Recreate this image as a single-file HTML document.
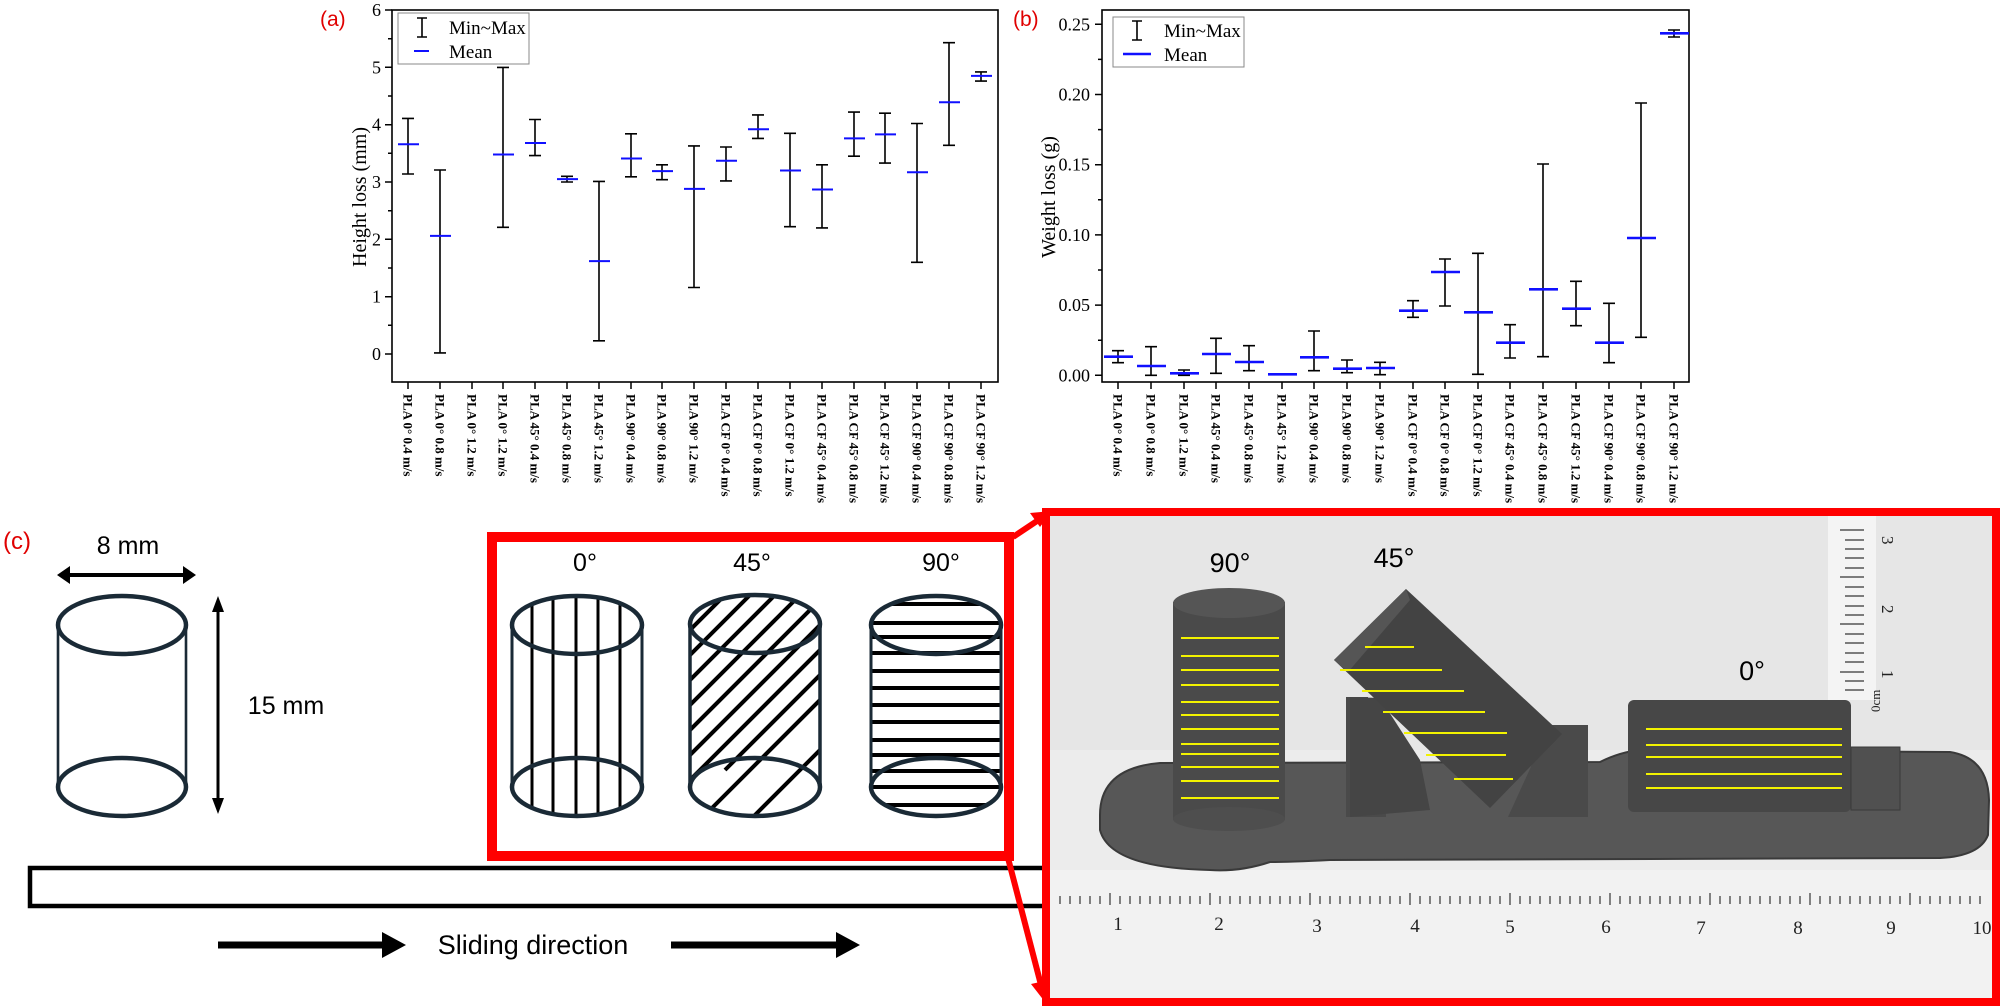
<!DOCTYPE html>
<html><head><meta charset="utf-8"><style>
html,body{margin:0;padding:0;background:#fff;}
svg{display:block;}
.ser{font-family:"Liberation Serif",serif;}
.san{font-family:"Liberation Sans",sans-serif;}
</style></head><body>
<svg width="2000" height="1006" viewBox="0 0 2000 1006" xmlns="http://www.w3.org/2000/svg">
<defs>
<clipPath id="c0"><rect x="512" y="625" width="130" height="162"/><ellipse cx="577" cy="625" rx="65" ry="29"/><ellipse cx="577" cy="787" rx="65" ry="29"/></clipPath>
<clipPath id="c45"><rect x="690" y="624" width="130" height="163"/><ellipse cx="755" cy="624" rx="65" ry="29"/><ellipse cx="755" cy="787" rx="65" ry="29"/></clipPath>
<clipPath id="c90"><rect x="871" y="625" width="130" height="162"/><ellipse cx="936" cy="625" rx="65" ry="29"/><ellipse cx="936" cy="787" rx="65" ry="29"/></clipPath>
<clipPath id="photo"><rect x="1050" y="516" width="942" height="482"/></clipPath>
</defs>

<!-- ===== Chart (a) ===== -->
<g class="ser">
<text x="320" y="26" class="san" font-size="21" fill="#e00000">(a)</text>
<rect x="392" y="10" width="606" height="372" fill="none" stroke="#000" stroke-width="1.6"/>
<g stroke="#000" stroke-width="1.5">
<path d="M392 354h-7M392 296.7h-7M392 239.3h-7M392 182h-7M392 124.7h-7M392 67.3h-7M392 10h-7"/>
<path d="M392 325.3h-4M392 268h-4M392 210.7h-4M392 153.3h-4M392 96h-4M392 38.7h-4"/>
<path d="M408 382v7M440 382v7M472 382v7M503 382v7M535 382v7M567 382v7M599 382v7M631 382v7M662 382v7M694 382v7M726 382v7M758 382v7M790 382v7M822 382v7M854 382v7M885 382v7M917 382v7M949 382v7M981 382v7"/>
</g>
<g font-size="18" text-anchor="end">
<text x="381" y="360">0</text><text x="381" y="302.7">1</text><text x="381" y="245.3">2</text><text x="381" y="188">3</text><text x="381" y="130.7">4</text><text x="381" y="73.3">5</text><text x="381" y="16">6</text>
</g>
<text transform="translate(366,197) rotate(-90)" font-size="20" text-anchor="middle">Height loss (mm)</text>
<g stroke="#000" stroke-width="1.6" fill="none">
<path d="M408 118.4V174M402 118.4h12M402 174h12"/>
<path d="M440 170V352.9M434 170h12M434 352.9h12"/>
<path d="M503 67.4V227.3M497 67.4h12M497 227.3h12"/>
<path d="M535 119.5V155.6M529 119.5h12M529 155.6h12"/>
<path d="M567 176.3V182M561 176.3h12M561 182h12"/>
<path d="M599 181.4V340.8M593 181.4h12M593 340.8h12"/>
<path d="M631 133.8V176.8M625 133.8h12M625 176.8h12"/>
<path d="M662 164.8V179.7M656 164.8h12M656 179.7h12"/>
<path d="M694 145.9V287.5M688 145.9h12M688 287.5h12"/>
<path d="M726 147V180.9M720 147h12M720 180.9h12"/>
<path d="M758 114.9V138.4M752 114.9h12M752 138.4h12"/>
<path d="M790 133.3V226.7M784 133.3h12M784 226.7h12"/>
<path d="M822 164.8V227.9M816 164.8h12M816 227.9h12"/>
<path d="M854 112.1V156.2M848 112.1h12M848 156.2h12"/>
<path d="M885 113.2V163.1M879 113.2h12M879 163.1h12"/>
<path d="M917 123.5V262.3M911 123.5h12M911 262.3h12"/>
<path d="M949 42.7V145.3M943 42.7h12M943 145.3h12"/>
<path d="M981 71.9V81.1M975 71.9h12M975 81.1h12"/>
</g>
<g stroke="#1010ff" stroke-width="2">
<path d="M398 144.2h21M430 235.9h21M493 154.5h21M525 143h21M557 179.1h21M589 261.1h21M621 158.5h21M652 171.1h21M684 188.9h21M716 160.8h21M748 129.3h21M780 170.5h21M812 189.5h21M844 138.4h21M875 134.4h21M907 172.3h21M939 102.3h21M971 75.9h21"/>
</g>
<rect x="398" y="13" width="131" height="51" fill="#fff" stroke="#888" stroke-width="1"/>
<path d="M422 18v19M417 18h10M417 37h10" stroke="#000" stroke-width="1.6"/>
<path d="M414 51h15" stroke="#1010ff" stroke-width="2"/>
<text x="449" y="34" font-size="19">Min~Max</text>
<text x="449" y="58" font-size="19">Mean</text>
<g font-size="13" font-weight="bold">
<text transform="translate(403.5,394) rotate(90)">PLA 0° 0.4 m/s</text>
<text transform="translate(435.5,394) rotate(90)">PLA 0° 0.8 m/s</text>
<text transform="translate(467.5,394) rotate(90)">PLA 0° 1.2 m/s</text>
<text transform="translate(498.5,394) rotate(90)">PLA 0° 1.2 m/s</text>
<text transform="translate(530.5,394) rotate(90)">PLA 45° 0.4 m/s</text>
<text transform="translate(562.5,394) rotate(90)">PLA 45° 0.8 m/s</text>
<text transform="translate(594.5,394) rotate(90)">PLA 45° 1.2 m/s</text>
<text transform="translate(626.5,394) rotate(90)">PLA 90° 0.4 m/s</text>
<text transform="translate(657.5,394) rotate(90)">PLA 90° 0.8 m/s</text>
<text transform="translate(689.5,394) rotate(90)">PLA 90° 1.2 m/s</text>
<text transform="translate(721.5,394) rotate(90)">PLA CF 0° 0.4 m/s</text>
<text transform="translate(753.5,394) rotate(90)">PLA CF 0° 0.8 m/s</text>
<text transform="translate(785.5,394) rotate(90)">PLA CF 0° 1.2 m/s</text>
<text transform="translate(817.5,394) rotate(90)">PLA CF 45° 0.4 m/s</text>
<text transform="translate(849.5,394) rotate(90)">PLA CF 45° 0.8 m/s</text>
<text transform="translate(880.5,394) rotate(90)">PLA CF 45° 1.2 m/s</text>
<text transform="translate(912.5,394) rotate(90)">PLA CF 90° 0.4 m/s</text>
<text transform="translate(944.5,394) rotate(90)">PLA CF 90° 0.8 m/s</text>
<text transform="translate(976.5,394) rotate(90)">PLA CF 90° 1.2 m/s</text>
</g>
</g>

<!-- ===== Chart (b) ===== -->
<g class="ser">
<text x="1013" y="26" class="san" font-size="21" fill="#e00000">(b)</text>
<rect x="1102" y="10" width="587" height="372" fill="none" stroke="#000" stroke-width="1.6"/>
<g stroke="#000" stroke-width="1.5">
<path d="M1102 375.3h-7M1102 305.1h-7M1102 234.9h-7M1102 164.7h-7M1102 94.5h-7M1102 24.3h-7"/>
<path d="M1102 340.2h-4M1102 270h-4M1102 199.8h-4M1102 129.6h-4M1102 59.4h-4"/>
<path d="M1118 382v7M1151 382v7M1184 382v7M1216 382v7M1249 382v7M1282 382v7M1314 382v7M1347 382v7M1380 382v7M1413 382v7M1445 382v7M1478 382v7M1510 382v7M1543 382v7M1576 382v7M1609 382v7M1641 382v7M1674 382v7"/>
</g>
<g font-size="18" text-anchor="end">
<text x="1090" y="381.3">0.00</text><text x="1090" y="311.1">0.05</text><text x="1090" y="240.9">0.10</text><text x="1090" y="170.7">0.15</text><text x="1090" y="100.5">0.20</text><text x="1090" y="30.3">0.25</text>
</g>
<text transform="translate(1055,197) rotate(-90)" font-size="20" text-anchor="middle">Weight loss (g)</text>
<g stroke="#000" stroke-width="1.6" fill="none">
<path d="M1118 350.7V362.7M1112 350.7h12M1112 362.7h12"/>
<path d="M1151 346.7V375.3M1145 346.7h12M1145 375.3h12"/>
<path d="M1184 370V375.3M1178 370h12M1178 375.3h12"/>
<path d="M1216 338.3V373.3M1210 338.3h12M1210 373.3h12"/>
<path d="M1249 345.7V370.7M1243 345.7h12M1243 370.7h12"/>
<path d="M1314 331V370.7M1308 331h12M1308 370.7h12"/>
<path d="M1347 360V372.7M1341 360h12M1341 372.7h12"/>
<path d="M1380 362.3V374.7M1374 362.3h12M1374 374.7h12"/>
<path d="M1413 300.7V317.3M1407 300.7h12M1407 317.3h12"/>
<path d="M1445 259V306M1439 259h12M1439 306h12"/>
<path d="M1478 253.3V374.3M1472 253.3h12M1472 374.3h12"/>
<path d="M1510 324.7V358M1504 324.7h12M1504 358h12"/>
<path d="M1543 164V356.7M1537 164h12M1537 356.7h12"/>
<path d="M1576 281.3V325.7M1570 281.3h12M1570 325.7h12"/>
<path d="M1609 303.3V362.7M1603 303.3h12M1603 362.7h12"/>
<path d="M1641 103V337.3M1635 103h12M1635 337.3h12"/>
<path d="M1674 30V37M1668 30h12M1668 37h12"/>
</g>
<g stroke="#1010ff" stroke-width="2.6">
<path d="M1104 356.7h29M1137 366h29M1170 373.3h29M1202 354h29M1235 362h29M1268 374.3h29M1300 357.3h29M1333 368.7h29M1366 368h29M1399 310.7h29M1431 272h29M1464 312.3h29M1496 342.7h29M1529 289.3h29M1562 308.7h29M1595 342.7h29M1627 238h29M1660 33.3h29"/>
</g>
<rect x="1113" y="17" width="131" height="50" fill="#fff" stroke="#888" stroke-width="1"/>
<path d="M1137 21v19M1132 21h10M1132 40h10" stroke="#000" stroke-width="1.6"/>
<path d="M1123 54h28" stroke="#1010ff" stroke-width="2.4"/>
<text x="1164" y="37" font-size="19">Min~Max</text>
<text x="1164" y="61" font-size="19">Mean</text>
<g font-size="13" font-weight="bold">
<text transform="translate(1113.5,394) rotate(90)">PLA 0° 0.4 m/s</text>
<text transform="translate(1146.5,394) rotate(90)">PLA 0° 0.8 m/s</text>
<text transform="translate(1179.5,394) rotate(90)">PLA 0° 1.2 m/s</text>
<text transform="translate(1211.5,394) rotate(90)">PLA 45° 0.4 m/s</text>
<text transform="translate(1244.5,394) rotate(90)">PLA 45° 0.8 m/s</text>
<text transform="translate(1277.5,394) rotate(90)">PLA 45° 1.2 m/s</text>
<text transform="translate(1309.5,394) rotate(90)">PLA 90° 0.4 m/s</text>
<text transform="translate(1342.5,394) rotate(90)">PLA 90° 0.8 m/s</text>
<text transform="translate(1375.5,394) rotate(90)">PLA 90° 1.2 m/s</text>
<text transform="translate(1408.5,394) rotate(90)">PLA CF 0° 0.4 m/s</text>
<text transform="translate(1440.5,394) rotate(90)">PLA CF 0° 0.8 m/s</text>
<text transform="translate(1473.5,394) rotate(90)">PLA CF 0° 1.2 m/s</text>
<text transform="translate(1505.5,394) rotate(90)">PLA CF 45° 0.4 m/s</text>
<text transform="translate(1538.5,394) rotate(90)">PLA CF 45° 0.8 m/s</text>
<text transform="translate(1571.5,394) rotate(90)">PLA CF 45° 1.2 m/s</text>
<text transform="translate(1604.5,394) rotate(90)">PLA CF 90° 0.4 m/s</text>
<text transform="translate(1636.5,394) rotate(90)">PLA CF 90° 0.8 m/s</text>
<text transform="translate(1669.5,394) rotate(90)">PLA CF 90° 1.2 m/s</text>
</g>
</g>

<!-- ===== Panel (c) left ===== -->
<g class="san">
<text x="3" y="549" font-size="24" fill="#e00000">(c)</text>
<text x="128" y="554" font-size="25" text-anchor="middle">8 mm</text>
<path d="M66 575h121" stroke="#000" stroke-width="4"/>
<path d="M57 575l13-9v18zM196 575l-13-9v18z" fill="#000"/>
<g fill="none" stroke="#1a2a36">
<path d="M58 625V787M186 625V787" stroke-width="2.6"/>
<ellipse cx="122" cy="625" rx="64" ry="29" stroke-width="4.5"/>
<ellipse cx="122" cy="787" rx="64" ry="29" stroke-width="4.5"/>
</g>
<path d="M218 606V804" stroke="#000" stroke-width="3"/>
<path d="M218 596l-6 16h12zM218 814l-6-16h12z" fill="#000"/>
<text x="286" y="714" font-size="25" text-anchor="middle">15 mm</text>

<!-- red box -->
<rect x="492" y="537" width="517" height="319" fill="none" stroke="#ff0000" stroke-width="10"/>
<text x="585" y="571" font-size="25" text-anchor="middle">0°</text>
<text x="752" y="571" font-size="25" text-anchor="middle">45°</text>
<text x="941" y="571" font-size="25" text-anchor="middle">90°</text>

<!-- 0° cylinder -->
<g clip-path="url(#c0)" stroke="#000" stroke-width="3">
<path d="M532 590V820M553 590V820M576 590V820M598 590V820M620 590V820"/>
</g>
<g fill="none" stroke="#1a2a36">
<path d="M512 625V787M642 625V787" stroke-width="3"/>
<ellipse cx="577" cy="625" rx="65" ry="29" stroke-width="4.5"/>
<ellipse cx="577" cy="787" rx="65" ry="29" stroke-width="4.5"/>
</g>
<!-- 45° cylinder -->
<g clip-path="url(#c45)" stroke="#000" stroke-width="4">
<path d="M600 720l150-150M625 720l150-150M650 720l150-150M675 720l150-150M700 720l150-150M600 770l170-170M625 770l200-200M650 770l200-200M675 770l200-200M700 770l200-200M725 770l200-200M600 820l250-250M625 845l250-250M650 870l250-250M675 895l250-250M700 920l250-250M725 945l250-250M575 745l200-200M575 795l200-200"/>
</g>
<g fill="none" stroke="#1a2a36">
<path d="M690 624V787M820 624V787" stroke-width="3.5"/>
<ellipse cx="755" cy="624" rx="65" ry="29" stroke-width="4.5"/>
<ellipse cx="755" cy="787" rx="65" ry="29" stroke-width="4.5"/>
</g>
<!-- 90° cylinder -->
<g clip-path="url(#c90)" stroke="#000" stroke-width="4">
<path d="M860 604h150M860 623h150M860 637h150M860 653h150M860 671h150M860 688h150M860 705h150M860 722h150M860 740h150M860 755h150M860 771h150M860 787h150M860 805h150"/>
</g>
<g fill="none" stroke="#1a2a36">
<path d="M871 625V787M1001 625V787" stroke-width="3"/>
<ellipse cx="936" cy="625" rx="65" ry="29" stroke-width="4.5"/>
<ellipse cx="936" cy="787" rx="65" ry="29" stroke-width="4.5"/>
</g>

<!-- long bar -->
<rect x="30" y="868" width="1030" height="38" fill="#fff" stroke="#000" stroke-width="4.5"/>
<!-- sliding arrows -->
<path d="M218 945H384" stroke="#000" stroke-width="7"/>
<path d="M382 932l24 13-24 13z" fill="#000"/>
<text x="533" y="954" font-size="27" text-anchor="middle">Sliding direction</text>
<path d="M671 945H838" stroke="#000" stroke-width="7"/>
<path d="M836 932l24 13-24 13z" fill="#000"/>
</g>

<!-- ===== Photo ===== -->
<g clip-path="url(#photo)">
<rect x="1050" y="516" width="942" height="482" fill="#e6e6e6"/>
<rect x="1050" y="750" width="942" height="248" fill="#ececec"/>
<rect x="1050" y="870" width="942" height="128" fill="#f2f2f2"/>
<!-- vertical ruler -->
<rect x="1828" y="516" width="48" height="184" fill="#f4f4f4"/>
<g stroke="#555" stroke-width="1.5">
<path d="M1840 530h24M1845 540h19M1845 549h19M1845 558h19M1845 568h19M1840 577h24M1845 587h19M1845 596h19M1845 606h19M1845 615h19M1840 624h24M1845 634h19M1845 643h19M1845 653h19M1845 662h19M1840 672h24M1845 681h19M1845 690h19"/>
</g>
<g font-size="17" class="ser" fill="#222">
<text transform="translate(1882,536) rotate(90)">3</text>
<text transform="translate(1882,605) rotate(90)">2</text>
<text transform="translate(1882,670) rotate(90)">1</text>
<text transform="translate(1880,712) rotate(-90)" font-size="13">0cm</text>
</g>
<!-- base plate -->
<path d="M1100 815 Q1100 768 1160 763 L1600 762 Q1620 752 1640 750 L1950 752 Q1988 758 1989 800 L1988 835 Q1980 856 1940 858 L1330 860 Q1290 862 1270 862 Q1240 872 1210 870 Q1110 868 1100 830 Z" fill="#575757" stroke="#3a3a3a" stroke-width="2"/>
<!-- 90° cylinder -->
<rect x="1173" y="602" width="112" height="218" fill="#4a4a4a"/>
<ellipse cx="1229" cy="603" rx="56" ry="15" fill="#555"/>
<ellipse cx="1229" cy="819" rx="56" ry="12" fill="#4e4e4e"/>
<g stroke="#f2f200" stroke-width="2">
<path d="M1181 638h98M1181 656h98M1181 670h98M1181 685h98M1181 702h98M1181 715h98M1181 729h98M1181 744h98M1181 754h98M1181 767h98M1181 781h98M1181 798h98"/>
</g>
<!-- 45° holder and object -->
<path d="M1346 697h22v100h18v20h-40z" fill="#4a4a4a"/>
<path d="M1350 697L1380 698L1420 760L1430 810L1350 817Z" fill="#454545"/>
<path d="M1550 725h38v92h-80z" fill="#4a4a4a"/>
<path d="M1406 589L1334 660L1490 808L1562 734Z" fill="#434343"/>
<path d="M1406 589L1334 660L1348 672L1410 600Z" fill="#555"/>
<g stroke="#f2f200" stroke-width="2">
<path d="M1365 647h49M1340 670h102M1362 691h102M1383 712h102M1404 733h103M1426 755h80M1454 779h59"/>
</g>
<!-- 0° object -->
<rect x="1628" y="700" width="223" height="112" rx="6" fill="#474747"/>
<rect x="1851" y="747" width="49" height="63" fill="#505050" stroke="#3a3a3a"/>
<g stroke="#f2f200" stroke-width="2">
<path d="M1646 729h196M1646 745h196M1646 757h196M1646 774h196M1646 788h196"/>
</g>
<!-- bottom ruler -->
<g stroke="#444" stroke-width="1.3">
<path d="M1060 896v8M1070 896v8M1080 896v8M1090 896v8M1100 896v8M1110 893v12M1120 896v8M1130 896v8M1140 896v8M1150 896v8M1160 896v8M1170 896v8M1180 896v8M1190 896v8M1200 896v8M1210 893v12M1220 896v8M1230 896v8M1240 896v8M1250 896v8M1260 896v8M1270 896v8M1280 896v8M1290 896v8M1300 896v8M1310 893v12M1320 896v8M1330 896v8M1340 896v8M1350 896v8M1360 896v8M1370 896v8M1380 896v8M1390 896v8M1400 896v8M1410 893v12M1420 896v8M1430 896v8M1440 896v8M1450 896v8M1460 896v8M1470 896v8M1480 896v8M1490 896v8M1500 896v8M1510 893v12M1520 896v8M1530 896v8M1540 896v8M1550 896v8M1560 896v8M1570 896v8M1580 896v8M1590 896v8M1600 896v8M1610 893v12M1620 896v8M1630 896v8M1640 896v8M1650 896v8M1660 896v8M1670 896v8M1680 896v8M1690 896v8M1700 896v8M1710 893v12M1720 896v8M1730 896v8M1740 896v8M1750 896v8M1760 896v8M1770 896v8M1780 896v8M1790 896v8M1800 896v8M1810 893v12M1820 896v8M1830 896v8M1840 896v8M1850 896v8M1860 896v8M1870 896v8M1880 896v8M1890 896v8M1900 896v8M1910 893v12M1920 896v8M1930 896v8M1940 896v8M1950 896v8M1960 896v8M1970 896v8M1980 896v8"/>
</g>
<g class="ser" font-size="19" fill="#222" text-anchor="middle">
<text x="1118" y="930">1</text><text x="1219" y="930">2</text><text x="1317" y="932">3</text><text x="1415" y="932">4</text><text x="1510" y="933">5</text><text x="1606" y="933">6</text><text x="1701" y="934">7</text><text x="1798" y="934">8</text><text x="1891" y="934">9</text><text x="1982" y="934">10</text>
</g>
<g class="san" font-size="27" text-anchor="middle" fill="#000">
<text x="1230" y="572">90°</text>
<text x="1394" y="567">45°</text>
<text x="1752" y="680">0°</text>
</g>
</g>
<rect x="1046" y="512" width="950" height="490" fill="none" stroke="#ff0000" stroke-width="8"/>
<!-- connectors -->
<path d="M1013 537L1040 519" stroke="#ff0000" stroke-width="6"/>
<path d="M1052 511l-22 2 10 14z" fill="#ff0000"/>
<path d="M1008 858L1041 985" stroke="#ff0000" stroke-width="6"/>
<path d="M1045 1002l-14-18 18-4z" fill="#ff0000"/>
</svg>
</body></html>
